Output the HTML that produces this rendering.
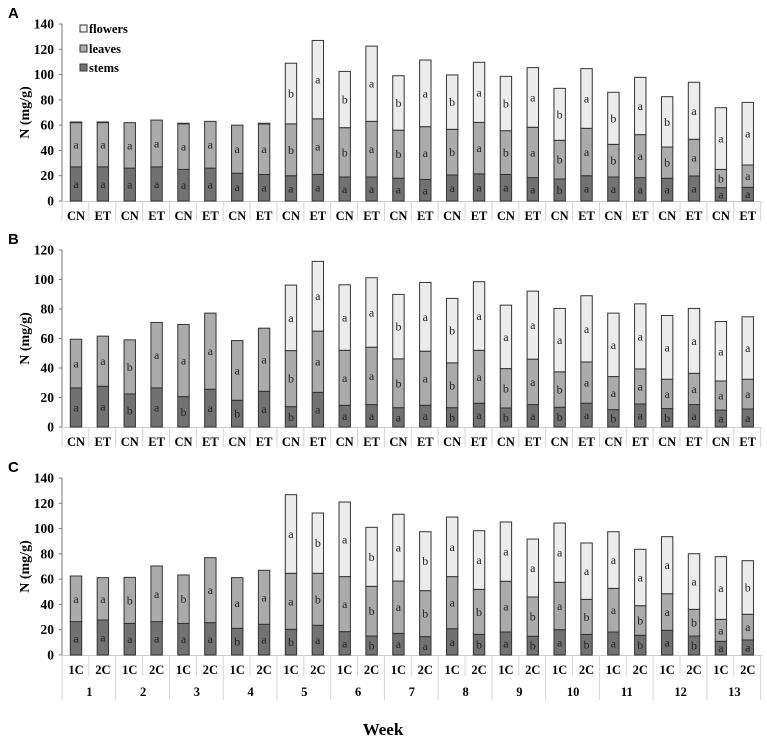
<!DOCTYPE html>
<html><head><meta charset="utf-8"><style>
html,body{margin:0;padding:0;background:#fff;}
svg{display:block;font-family:"Liberation Serif",serif;}
.pl{font-family:"Liberation Sans",sans-serif;font-weight:bold;font-size:15px;}
</style></head><body>
<svg id="chart" width="767" height="740" viewBox="0 0 767 740" xmlns="http://www.w3.org/2000/svg"></svg>
<script>
const catsAB = ["CN","ET","CN","ET","CN","ET","CN","ET","CN","ET","CN","ET","CN","ET","CN","ET","CN","ET","CN","ET","CN","ET","CN","ET","CN","ET"];
const catsC = ["1C","2C","1C","2C","1C","2C","1C","2C","1C","2C","1C","2C","1C","2C","1C","2C","1C","2C","1C","2C","1C","2C","1C","2C","1C","2C"];
const weeks = ["1","2","3","4","5","6","7","8","9","10","11","12","13"];
// Panel A (cumulative tops: stems, stems+leaves, total)
const aStems = [27,27,26,27,25,26,22,21,20,21,19,19,18,17,20.6,21.4,21,18.5,17.4,20,19,18.5,18,19.8,10.5,10.8];
const aLeavesTop = [62,62,62,64,61,63,60,61,61,65,58,63,56,58.8,56.7,62.2,55.6,58.3,48,57.5,44.8,52.5,42.7,48.8,25,28.5];
const aTotal = [62.5,62.5,62,64,61.5,63,60,61.5,109,127,102.5,122.5,99.1,111.5,99.7,109.7,98.6,105.5,89.1,104.7,86,97.8,82.5,93.9,73.8,78];
const aStemL = "aaaaaaaaaaaaaaaaaabaaaaaaa".split("");
const aLeafL = "aaaaaaaababababababababababa".slice(0,26).split("");
const aFlowL = "        babababababababaaa".split("");
// Panel B
const bStems = [26.5,27.6,22.4,26.5,20.6,25.6,18.1,24.2,13.8,23.5,14.7,15.2,13.1,14.7,13.1,16.1,12.9,15.2,13.4,16.1,11.8,15.6,12.5,15.2,11.5,12.2];
const bLeavesTop = [59.5,61.6,59.1,70.9,69.5,77.2,58.6,67,51.8,65,52,54.1,46.2,51.4,43.5,52,39.6,46,37.4,44.1,34.2,39.4,32.4,36.4,31.2,32.4];
const bTotal = [59.5,61.6,59.1,70.9,69.5,77.2,58.6,67,96.2,112.3,96.4,101.2,89.9,98,87.2,98.5,82.6,92.1,80.4,89,77.2,83.5,75.6,80.4,71.5,74.7];
const bStemL = "aababababaaaaabababababaaa".split("");
const bLeafL = "aabaaaaabaaababababaaaaaaa".split("");
const bFlowL = "        aaaababaaaaaaaaaaa".split("");
// Panel C
const cStems = [26.4,27.7,25,26.4,25,25.6,21.1,24.3,20.3,23.5,18.5,15,17.1,14.5,20.8,16.3,18.2,14.8,20,16.3,18.2,15.6,19.5,15,10.8,11.9];
const cLeavesTop = [62.5,61.2,61.4,70.4,63.3,77,61.2,67,64.6,64.6,62,54.3,58.5,50.9,62,51.9,58.3,45.9,57.5,44,52.7,39,48.5,36.1,28.2,32.2];
const cTotal = [62.5,61.2,61.4,70.4,63.3,77,61.2,67,126.8,112.3,121,101,111.3,97.5,109.1,98.3,105.2,91.7,104.4,88.6,97.5,83.6,93.6,80.1,77.8,74.6];
const cStemL = "aaaaaababaabaaabababababaa".split("");
const cLeafL = "aababaaaababababababababaa".split("");
const cFlowL = "        abababaaaaaaaaaaab".split("");

const svg = document.getElementById('chart');
const NS = "http://www.w3.org/2000/svg";
function mk(tag, attrs, parent){const e=document.createElementNS(NS,tag);for(const k in attrs)e.setAttribute(k,attrs[k]);(parent||svg).appendChild(e);return e;}
const xC = i => 76 + 26.87*i;
const BW = 11.4;

function panel(letter, top, bottom, maxV, step, stems, leavesTop, total, sL, lL, fL, cats, isC){
  const g = mk('g',{});
  
  
  const y = v => bottom - (v/maxV)*(bottom-top);
  const pl = mk('text',{x:8,y:top-6,class:'pl'},g); pl.textContent=letter;
  
  
  const ax = mk('line',{x1:62,y1:top,x2:62,y2:bottom,stroke:'#777','stroke-width':1},g);
  
  
  for(let v=0; v<=maxV; v+=step){
    mk('line',{x1:59,y1:y(v),x2:62,y2:y(v),stroke:'#777'},g);
    const t = mk('text',{x:54,y:y(v)+4.5,'text-anchor':'end','font-size':13.5,'font-weight':'bold'},g);
    t.textContent=v;
    
    
  }
  const yt = mk('text',{x:0,y:0,'text-anchor':'middle','font-size':14,'font-weight':'bold',transform:`translate(29,${(top+bottom)/2}) rotate(-90)`},g);
  yt.textContent='N (mg/g)';
  
  
  const xa = mk('line',{x1:62,y1:bottom+0.5,x2:762,y2:bottom+0.5,stroke:'#ccc'},g);
  
  
  const divLen = isC ? 21 : 20;
  for(let i=0;i<=cats.length;i++){
    const xx = 62 + 26.87*i;
    const full = isC && i%2===0;
    mk('line',{x1:xx,y1:bottom,x2:xx,y2:bottom+(full?45:divLen),stroke:'#d4d4d4'},g);
  }
  cats.forEach((c,i)=>{
    const t = mk('text',{x:xC(i),y:bottom+19,'text-anchor':'middle','font-size':12.5,'font-weight':'bold'},g);
    t.textContent=c;
    
    
  });
  if(isC){
    weeks.forEach((w,k)=>{
      const t = mk('text',{x:(xC(2*k)+xC(2*k+1))/2,y:bottom+41,'text-anchor':'middle','font-size':12.5,'font-weight':'bold'},g);
      t.textContent=w;
      
      
    });
  }
  for(let i=0;i<cats.length;i++){
    const x0 = xC(i)-BW/2;
    const segs = [[0,stems[i],'#727272',sL[i],'stems'],[stems[i],leavesTop[i],'#ababab',lL[i],'leaves'],[leavesTop[i],total[i],'#ececec',fL[i],'flowers']];
    segs.forEach(s=>{
      if(s[1]-s[0] < 0.3) return;
      const r = mk('rect',{x:x0,y:y(s[1]),width:BW,height:y(s[0])-y(s[1]),fill:s[2],stroke:'#333','stroke-width':1},g);
      
      
      if(s[3] && s[3].trim()){
        const t = mk('text',{x:xC(i),y:(y(s[0])+y(s[1]))/2+4,'text-anchor':'middle','font-size':12,fill:'#222'},g);
        t.textContent=s[3];
        
        
      }
    });
  }
}
panel('A',24,201,140,20,aStems,aLeavesTop,aTotal,aStemL,aLeafL,aFlowL,catsAB,false);
panel('B',250,427,120,20,bStems,bLeavesTop,bTotal,bStemL,bLeafL,bFlowL,catsAB,false);
panel('C',478,655,140,20,cStems,cLeavesTop,cTotal,cStemL,cLeafL,cFlowL,catsC,true);

const lg = mk('g',{});


[['flowers','#ececec',30],['leaves','#ababab',50],['stems','#727272',69]].forEach(e=>{
  const r = mk('rect',{x:80,y:e[2]-5,width:7,height:7,fill:e[1],stroke:'#333'},lg);
  
  
  const t = mk('text',{x:89,y:e[2]+3,'font-size':12.5,'font-weight':'bold'},lg);
  t.textContent=e[0];
  
  
});
const wk = mk('text',{x:383,y:735,'text-anchor':'middle','font-size':17,'font-weight':'bold'});
wk.textContent='Week';


</script>
</body></html>
